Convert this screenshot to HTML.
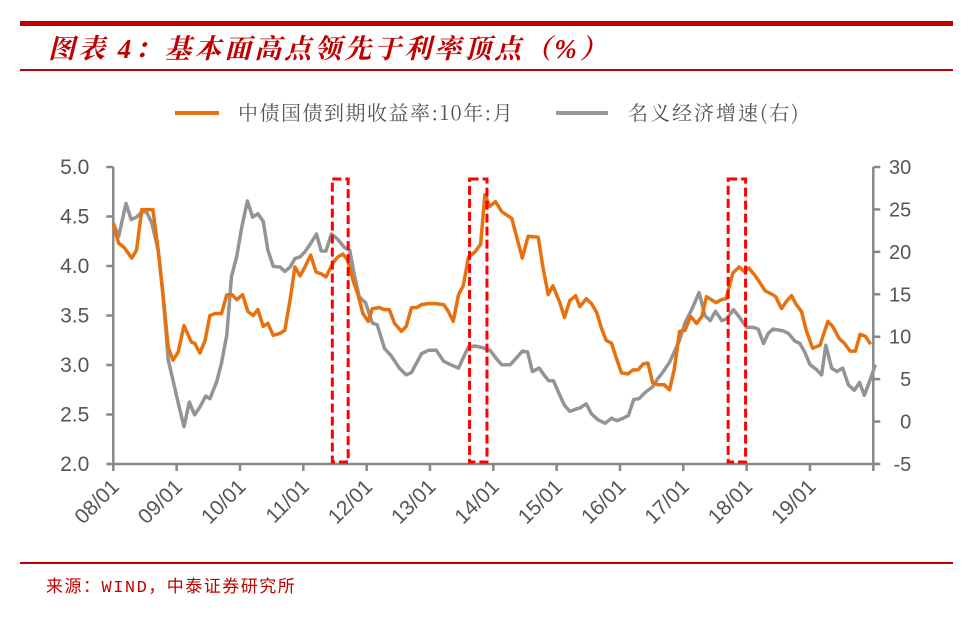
<!DOCTYPE html>
<html><head><meta charset="utf-8"><style>
body{margin:0;background:#fff;}
svg{display:block;font-family:"Liberation Sans","Noto Sans CJK SC",sans-serif;}
</style></head><body>
<svg id="chart" width="973" height="617" viewBox="0 0 973 617">
<rect x="20" y="21" width="933" height="5" fill="#c00000"/>
<text x="48" y="58" font-size="27" font-weight="bold" font-style="italic" letter-spacing="3" fill="#c00000" font-family="'Liberation Serif','Noto Serif CJK SC',serif">图表 4：基本面高点领先于利率顶点（%）</text>
<rect x="20" y="69" width="933" height="2" fill="#c00000"/>
<g>
<line x1="175" y1="113" x2="219" y2="113" stroke="#e8710f" stroke-width="4"/>
<text x="238" y="120" font-size="20" letter-spacing="1.5" fill="#555" font-family="'Noto Serif CJK SC','Liberation Serif',serif">中债国债到期收益率:10年:月</text>
<line x1="556" y1="113" x2="608" y2="113" stroke="#999" stroke-width="4"/>
<text x="628" y="120" font-size="20" letter-spacing="2" fill="#555" font-family="'Noto Serif CJK SC','Liberation Serif',serif">名义经济增速(右)</text>
</g>
<g id="plot"></g>
<rect x="20" y="562" width="933" height="2" fill="#c00000"/>
<text x="46" y="592" font-size="17" letter-spacing="1.5" fill="#c00000" font-family="'Liberation Mono','Noto Sans CJK SC',monospace">来源：WIND，中泰证券研究所</text>
</svg>
<script>
const xTickLabels=["08/01","09/01","10/01","11/01","12/01","13/01","14/01","15/01","16/01","17/01","18/01","19/01"];
const leftTicks=[2.0,2.5,3.0,3.5,4.0,4.5,5.0];
const rightTicks=[-5,0,5,10,15,20,25,30];
const yieldMonths=[0,1,2,3.5,4.4,5.4,7.5,8.5,9.4,10.4,11.3,12.3,13.4,14.8,15.4,16.4,17.4,18.3,19.3,20.5,21.5,22.5,23.4,24.5,25.5,26.5,27.4,28.4,29.3,30.3,31.6,32.5,33.5,34.4,35.4,36.3,37.4,38.4,39.4,40.3,41.6,42.5,43.5,44.4,45.4,46.3,47.3,48.3,49.1,50.4,51.4,52.3,53.3,54.6,55.5,56.5,57.5,58.4,59.7,61,62.6,63.5,64.4,65.4,66.3,67.3,68.5,69.6,70.4,71.3,72.4,73.6,75.5,76.4,77.5,78.6,80.5,81.4,82.4,83.3,84.6,85.5,86.5,87.6,88.4,89.6,90.6,91.6,92.5,93.4,94.4,95.3,96.3,97.5,98.5,99.4,100.4,101.3,102.2,103.2,104.4,105.4,106.3,107.3,108.3,109.4,110.5,111.5,112.4,113.3,114.2,115.2,116.1,117.4,118.6,119.6,120.4,121.5,122.4,123.5,124.6,125.5,126.6,127.5,128.5,129.4,130.4,131.3,132.5,133.9,135.4,136.3,137.5,138.5,139.6,140.6,141.5,142.5,143.5];
const yieldValues=[4.43,4.23,4.19,4.08,4.16,4.57,4.57,4.16,3.72,3.18,3.05,3.13,3.40,3.23,3.22,3.12,3.25,3.50,3.52,3.52,3.71,3.71,3.66,3.71,3.54,3.50,3.56,3.39,3.42,3.30,3.32,3.35,3.66,3.99,3.90,3.99,4.11,3.94,3.92,3.89,4.03,4.09,4.12,4.06,3.86,3.72,3.52,3.44,3.57,3.58,3.56,3.56,3.42,3.34,3.39,3.58,3.58,3.61,3.62,3.62,3.61,3.54,3.44,3.71,3.80,4.09,4.14,4.22,4.72,4.60,4.65,4.55,4.48,4.30,4.08,4.30,4.29,3.99,3.71,3.80,3.63,3.48,3.65,3.70,3.59,3.67,3.62,3.53,3.37,3.25,3.22,3.07,2.92,2.91,2.95,2.95,3.01,3.02,2.82,2.80,2.80,2.75,2.96,3.34,3.35,3.49,3.42,3.49,3.69,3.66,3.63,3.66,3.67,3.93,3.99,3.94,3.98,3.91,3.84,3.75,3.72,3.69,3.57,3.64,3.70,3.61,3.54,3.35,3.17,3.20,3.44,3.39,3.27,3.22,3.14,3.14,3.31,3.29,3.21];
const growthMonths=[0,1,2.4,3.4,4.4,5.4,6.3,7.3,8.5,9.4,10.4,11.3,12.3,13.4,14.4,15.4,16.4,17.5,18.3,19.6,20.5,21.5,22.4,23.4,24.3,25.4,26.4,27.4,28.4,29.3,30.3,31.6,32.5,33.5,34.4,35.4,36.3,37.4,38.5,39.4,40.3,41.3,42.5,43.8,44.8,45.6,46.6,47.8,49.1,50,51.4,52.6,54.2,55.5,56.5,58.4,59.7,61.2,62.6,63.9,65.4,66.3,67.3,68.5,70,71.4,72.6,73.6,75.2,76.4,77.5,78.5,79.4,80.7,81.6,82.5,83.4,84.6,85.5,86.5,87.8,88.4,89.6,90.6,91.9,93.2,94.4,95.4,96.6,97.6,98.6,99.6,100.9,102.2,103.1,104.1,105.4,106,107.3,108.3,109.6,111,112.1,113.1,114.1,115.3,116.2,117.5,118.4,120,121.3,122.2,123.2,124.1,125,126.9,127.9,129.1,130.1,131,132,133.3,134.2,135,136.1,137.1,138.2,139.3,140.4,141.4,142.3,143.4,144.4];
const growthValues=[23.4,21.8,25.7,23.8,24.1,24.7,24.7,23.4,20.2,15.1,7.3,4.9,2.2,-0.6,2.3,0.8,1.7,3.0,2.7,4.7,6.9,10.2,17.1,19.5,22.8,26.0,24.1,24.5,23.6,20.2,18.3,18.2,17.7,18.2,19.2,19.4,20.0,21.0,22.1,20.1,20.1,22.1,21.5,20.5,20.2,17.5,14.7,14.0,11.6,11.4,8.6,7.8,6.3,5.5,5.8,8.0,8.4,8.4,7.1,6.7,6.3,7.5,8.8,8.9,8.7,8.4,7.4,6.7,6.7,7.5,8.3,8.2,5.9,6.3,5.5,4.8,4.8,3.1,1.9,1.2,1.5,1.6,2.1,0.9,0.2,-0.2,0.4,0.1,0.4,0.7,2.6,2.7,3.5,4.1,5.0,5.8,7.0,7.8,9.6,11.6,13.2,15.2,12.5,11.9,13.0,11.9,12.1,13.2,12.5,11.1,11.1,10.9,9.2,10.4,10.9,10.7,10.4,9.5,9.2,8.2,6.7,6.1,5.5,9.0,6.3,5.9,6.3,4.3,3.7,4.6,3.1,4.9,6.7];
const highlightStarts=[41.5,67.5,116.5];
const highlightEnds=[44.5,70.8,119.8];

const NS="http://www.w3.org/2000/svg";
const X0=113.3,X1=873.3,YT=167,YB=464;
const xs=m=>X0+m*(X1-X0)/144;
const yl=v=>YB-(v-2)/3*(YB-YT);
const yr=v=>YB-(v+5)/35*(YB-YT);
const plot=document.getElementById('plot');
function mk(tag,attrs,parent){const e=document.createElementNS(NS,tag);for(const k in attrs)e.setAttribute(k,attrs[k]);(parent||plot).appendChild(e);return e;}

let a=mk('line',{x1:X0,y1:YT,x2:X0,y2:YB,stroke:'#888','stroke-width':2.5});


a=mk('line',{x1:X1,y1:YT,x2:X1,y2:YB,stroke:'#888','stroke-width':2.5});


a=mk('line',{x1:X0-6,y1:YB,x2:X1+6,y2:YB,stroke:'#888','stroke-width':2.5});


leftTicks.forEach(v=>{
  const t=mk('line',{x1:X0-7,y1:yl(v),x2:X0,y2:yl(v),stroke:'#888','stroke-width':2.5});
  
  
  const l=mk('text',{x:X0-24,y:yl(v)+7,'text-anchor':'end','font-size':21,fill:'#555'});
  l.textContent=v.toFixed(1);
  
  
});
rightTicks.forEach(v=>{
  const t=mk('line',{x1:X1,y1:yr(v),x2:X1+7,y2:yr(v),stroke:'#888','stroke-width':2.5});
  
  
  const l=mk('text',{x:X1+38,y:yr(v)+7,'text-anchor':'end','font-size':20,fill:'#555'});
  l.textContent=String(v);
  
  
});
xTickLabels.forEach((s,i)=>{
  const x=xs(i*12);
  const t=mk('line',{x1:x,y1:YB,x2:x,y2:YB+7,stroke:'#888','stroke-width':2.5});
  
  
  const l=mk('text',{x:x+7,y:YB+24,'text-anchor':'end','font-size':21,fill:'#555',transform:`rotate(-45 ${x+7} ${YB+24})`});
  l.textContent=s;
  
  
});
let t=mk('line',{x1:X1,y1:YB,x2:X1,y2:YB+7,stroke:'#888','stroke-width':2.5});



let d=growthMonths.map((m,i)=>(i?'L':'M')+xs(m).toFixed(1)+' '+yr(growthValues[i]).toFixed(1)).join('');
let p=mk('path',{d:d,fill:'none',stroke:'#949494','stroke-width':3.5,'stroke-linejoin':'round'});


d=yieldMonths.map((m,i)=>(i?'L':'M')+xs(m).toFixed(1)+' '+yl(yieldValues[i]).toFixed(1)).join('');
p=mk('path',{d:d,fill:'none',stroke:'#e8710f','stroke-width':3.5,'stroke-linejoin':'round'});



highlightStarts.forEach((s,i)=>{
  const x0=xs(s),x1=xs(highlightEnds[i]);
  const r=mk('rect',{x:x0,y:179,width:x1-x0,height:283,fill:'none',stroke:'#ff0000','stroke-width':3,'stroke-dasharray':'9 4'});
  
  
});
</script>
</body></html>
